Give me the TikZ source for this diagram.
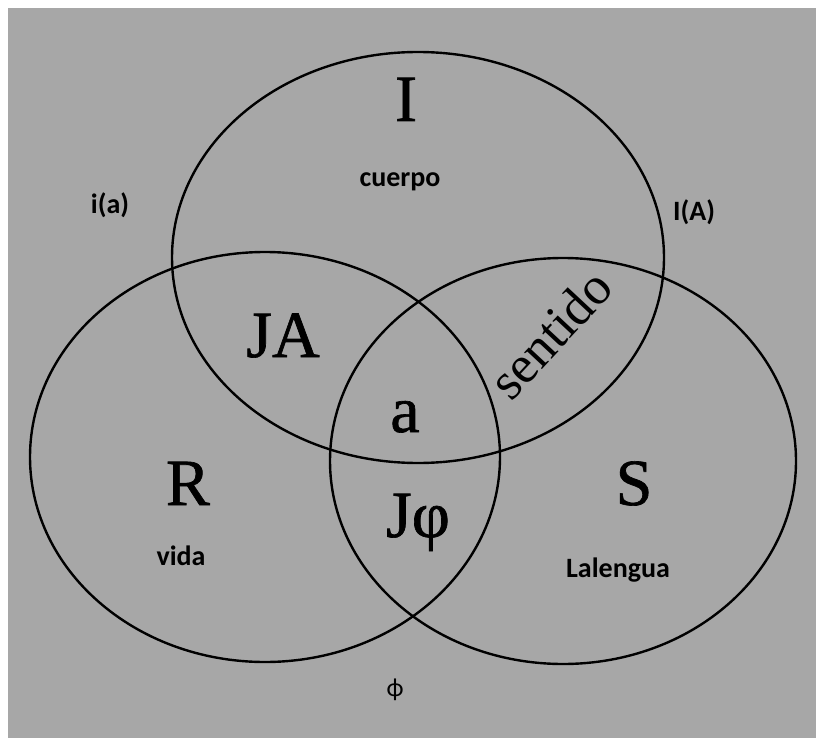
\documentclass[tikz,border=0pt]{standalone}
\usepackage{fontspec}
\setmainfont{Liberation Serif}
\newfontfamily\bigfont[FakeBold=1.0]{Liberation Serif}
\newfontfamily\lblfont{Carlito}
\begin{document}
\begin{tikzpicture}[x=1pt,y=-1pt,
  ring/.style={draw=black,line width=2.4pt},
  big/.style={font=\bigfont\fontsize{66}{70}\selectfont,inner sep=0pt,anchor=base},
  lbl/.style={font=\lblfont\bfseries\fontsize{28}{30}\selectfont,inner sep=0pt,anchor=base}]
\useasboundingbox (0,0) rectangle (816,738);
\fill[white] (0,0) rectangle (816,738);
\fill[fill={rgb,255:red,167;green,167;blue,167}] (8,8) rectangle (816,738);
\draw[ring] (418,257.5) ellipse [x radius=246, y radius=205.5];
\draw[ring] (265,457) ellipse [x radius=235, y radius=205];
\draw[ring] (563,461) ellipse [x radius=233, y radius=203];
\node[big] (I) at (406,121) {I};
\node[big] (JA) at (283,357) {JA};
\node[big] (a) at (405,432) {a};
\node[big] (R) at (188,505) {R};
\node[big] (S) at (634,505) {S};
\node[big] (Jphi) at (418,537) {Jφ};
\node[font=\fontsize{53}{56}\selectfont,inner sep=0pt,rotate=47] (sentido) at (550,334) {sentido};
\node[lbl] (cuerpo) at (400,186) {cuerpo};
\node[lbl] (ia) at (110,214) {i(a)};
\node[lbl] (IA) at (694,220) {I(A)};
\node[lbl] (vida) at (181,565) {vida};
\node[lbl] (lalengua) at (618,577) {Lalengua};
\node[font=\lblfont\fontsize{26}{28}\selectfont,inner sep=0pt] (phi) at (395,690) {ϕ};
\end{tikzpicture}
\end{document}
